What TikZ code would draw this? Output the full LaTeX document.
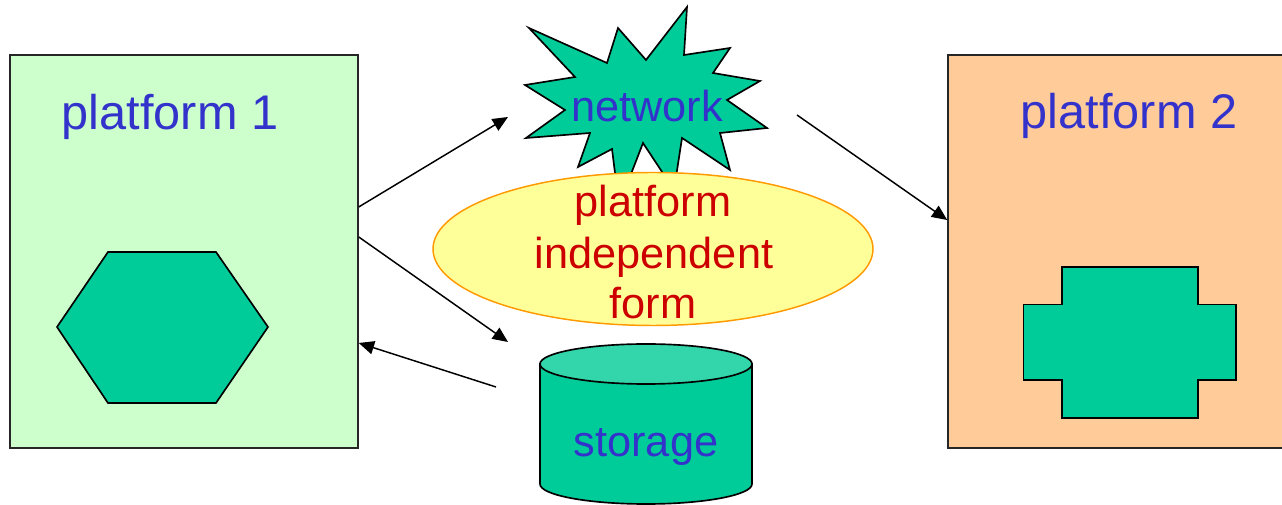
\documentclass[tikz,border=0pt]{standalone}
\usepackage{fontspec}
\setmainfont{Liberation Sans}
\usetikzlibrary{arrows.meta,shapes.geometric}
\definecolor{boxgreen}{HTML}{CCFFCC}
\definecolor{boxpeach}{HTML}{FFCC99}
\definecolor{teal}{HTML}{00CC99}
\definecolor{tealtop}{HTML}{33D6AA}
\definecolor{paleyellow}{HTML}{FFFF99}
\definecolor{rimorange}{HTML}{FF9900}
\definecolor{labelblue}{HTML}{3333CC}
\definecolor{labelred}{HTML}{CC0000}
\tikzset{
  platformbox/.style={draw=black!85, line width=1.1pt, rectangle, inner sep=0pt},
  bigtitle/.style={text=labelblue, font=\fontsize{36.5}{44}\selectfont, anchor=base, inner sep=0pt},
  smalltitle/.style={text=labelblue, font=\fontsize{32.5}{39}\selectfont, anchor=base, inner sep=0pt},
  redline/.style={text=labelred, font=\fontsize{32.5}{39}\selectfont, anchor=base, inner sep=0pt},
  solid shape/.style={draw=black, line width=1.25pt, fill=teal, line join=miter},
  flow/.style={draw=black, line width=1.1pt, -{Triangle[length=11.5pt,width=10pt]}}
}
\begin{document}
\begin{tikzpicture}[x=0.75pt, y=-0.75pt]
\useasboundingbox (0,0) rectangle (1282,505);

% the two platforms
\node[platformbox, fill=boxgreen, minimum width=261pt, minimum height=294.75pt] (p1) at (184,251.5) {};
\node[platformbox, fill=boxpeach, minimum width=256.5pt, minimum height=294.75pt] (p2) at (1119,251.5) {};
\node[bigtitle] (p1title) at (170,130) {platform 1};
\node[bigtitle] (p2title) at (1129,128.5) {platform 2};

% hexagon in platform 1
\draw[solid shape] (57,327) -- (108,252) -- (216,252) -- (268,327) -- (216,403) -- (108,403) -- cycle;

% stepped block in platform 2
\draw[solid shape] (1062,267) -- (1198,267) -- (1198,304.5) -- (1236,304.5) -- (1236,380)
  -- (1198,380) -- (1198,418) -- (1062,418) -- (1062,380) -- (1023.5,380)
  -- (1023.5,304.5) -- (1062,304.5) -- cycle;

% network burst
\draw[solid shape] (529,28) -- (607,63) -- (618,28) -- (646,60) -- (687,7) -- (684,55)
  -- (730,48) -- (713,73) -- (760,81) -- (727,100) -- (767,128) -- (720,133)
  -- (730,170) -- (682,138) -- (674,190) -- (643,143) -- (619,205) -- (612,149)
  -- (578,167) -- (590,133) -- (526,138) -- (565,110) -- (525,85) -- (575,77) -- cycle;
\node[smalltitle] (net) at (647,121.7) {network};

% platform independent form
\node[ellipse, draw=rimorange, line width=1.1pt, fill=paleyellow, minimum width=330pt,
  minimum height=114.75pt, inner sep=0pt] (pif) at (653,249) {};
\node[redline] (pif1) at (653,216.7) {platform};
\node[redline] (pif2) at (654,268.3) {independent};
\node[redline] (pif3) at (653,318.3) {form};

% storage drum
\draw[solid shape] (540,364) -- (540,484)
  arc[start angle=180, end angle=360, x radius=79.5pt, y radius=15pt]
  -- (752,364) -- cycle;
\draw[solid shape, fill=tealtop] (646,364) ellipse[x radius=79.5pt, y radius=15pt];
\node[smalltitle] (store) at (646,456.7) {storage};

% free ends of the connectors
\coordinate (netin) at (508,117);
\coordinate (netout) at (797,115);
\coordinate (storein) at (508,342);
\coordinate (storeout) at (496,387);

\draw[flow] ([yshift=33.4pt]p1.east) -- (netin);
\draw[flow] ([yshift=10.9pt]p1.east) -- (storein);
\draw[flow] (storeout) -- ([yshift=-68.6pt]p1.east);
\draw[flow] (netout) -- ([yshift=23.6pt]p2.west);
\end{tikzpicture}
\end{document}
